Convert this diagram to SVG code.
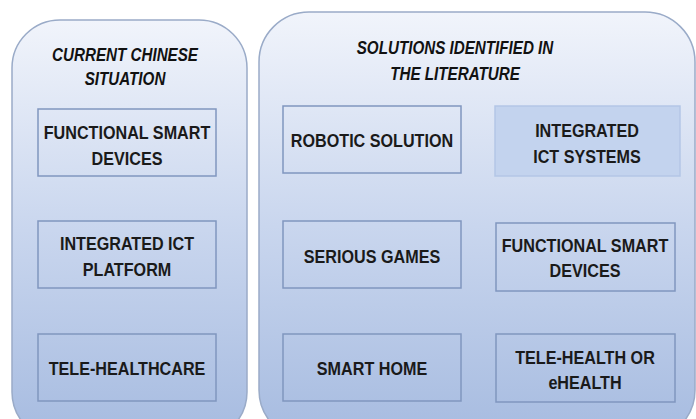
<svg xmlns="http://www.w3.org/2000/svg" width="696" height="419" viewBox="0 0 696 419">
<defs>
<linearGradient id="pg" x1="0" y1="0" x2="0" y2="1">
<stop offset="0" stop-color="#f1f4fb"/>
<stop offset="0.5" stop-color="#c9d6ee"/>
<stop offset="1" stop-color="#a6bbe0"/>
</linearGradient>
<style>
.panel{fill:url(#pg);stroke:#9aabc8;stroke-width:1.5}
.box{fill:none;stroke:#8096bf;stroke-width:1.5}
.hbox{fill:#c3d3ee;stroke:#b4c6e6;stroke-width:1.5}
.t{font-family:"Liberation Sans",Arial,sans-serif;font-weight:bold;font-size:19px;fill:#1a1a1a;text-anchor:middle}
.h{font-family:"Liberation Sans",Arial,sans-serif;font-weight:bold;font-style:italic;font-size:19px;fill:#111;text-anchor:middle}
</style>
</defs>
<rect width="696" height="419" fill="#ffffff"/>
<g id="panel-left">
<rect class="panel" x="12" y="20" width="235" height="420" rx="48"/>
<text class="h" transform="translate(125,61) scale(0.8,1)">CURRENT CHINESE</text>
<text class="h" transform="translate(125,85) scale(0.8,1)">SITUATION</text>
</g>
<g id="panel-right">
<rect class="panel" x="259" y="12" width="436" height="428" rx="50"/>
<text class="h" transform="translate(455,54) scale(0.8,1)">SOLUTIONS IDENTIFIED IN</text>
<text class="h" transform="translate(455,80) scale(0.8,1)">THE LITERATURE</text>
</g>
<g id="l1"><rect class="box" x="38" y="109" width="178" height="67"/><text class="t" transform="translate(127,139) scale(0.85,1)">FUNCTIONAL SMART</text><text class="t" transform="translate(127,165) scale(0.85,1)">DEVICES</text></g>
<g id="l2"><rect class="box" x="38" y="221" width="178" height="67"/><text class="t" transform="translate(127,250) scale(0.85,1)">INTEGRATED ICT</text><text class="t" transform="translate(127,276) scale(0.85,1)">PLATFORM</text></g>
<g id="l3"><rect class="box" x="38" y="334" width="178" height="67"/><text class="t" transform="translate(127,375) scale(0.85,1)">TELE-HEALTHCARE</text></g>
<g id="r1"><rect class="box" x="283" y="106" width="178" height="67"/><text class="t" transform="translate(372,147) scale(0.85,1)">ROBOTIC SOLUTION</text></g>
<g id="r2"><rect class="hbox" x="495" y="106" width="185" height="70"/><text class="t" transform="translate(587,137) scale(0.85,1)">INTEGRATED</text><text class="t" transform="translate(587,163) scale(0.85,1)">ICT SYSTEMS</text></g>
<g id="r3"><rect class="box" x="283" y="221" width="178" height="67"/><text class="t" transform="translate(372,263) scale(0.85,1)">SERIOUS GAMES</text></g>
<g id="r4"><rect class="box" x="496" y="223" width="179" height="68"/><text class="t" transform="translate(585,252) scale(0.85,1)">FUNCTIONAL SMART</text><text class="t" transform="translate(585,277) scale(0.85,1)">DEVICES</text></g>
<g id="r5"><rect class="box" x="283" y="334" width="178" height="67"/><text class="t" transform="translate(372,375) scale(0.85,1)">SMART HOME</text></g>
<g id="r6"><rect class="box" x="496" y="334" width="179" height="68"/><text class="t" transform="translate(585,364) scale(0.85,1)">TELE-HEALTH OR</text><text class="t" transform="translate(585,389) scale(0.85,1)">eHEALTH</text></g>
<g id="connectors"/>
</svg>
